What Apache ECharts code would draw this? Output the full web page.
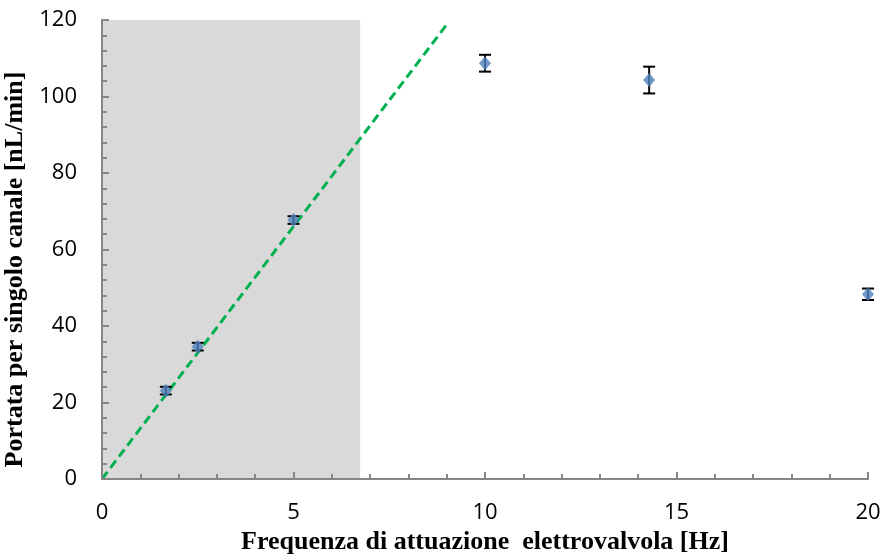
<!DOCTYPE html>
<html>
<head>
<meta charset="utf-8">
<script src="https://cdn.jsdelivr.net/npm/echarts@6/dist/echarts.min.js"></script>
<style>
  html, body { margin: 0; padding: 0; background: #fff; }
  #main { width: 882px; height: 558px; }
</style>
</head>
<body>
<div id="main"></div>
<script>
// dati
const freq = [1.667, 2.5, 5, 10, 14.286, 20]
const flow = [23.1, 34.6, 67.7, 108.7, 104.3, 48.3]
const err = [1, 1, 1, 2.2, 3.5, 1.5]
// retta di regressione (tratteggiata)
const fitX = [0, 9]
const fitY = [0, 118.8]
// zona grigia
const shadeX = [0, 6.74]
const shadeY = [0, 120]

const dom = document.getElementById('main')
const myChart = echarts.init(dom)

const points = freq.map((f, i) => [f, flow[i]])
const bars = freq.map((f, i) => [f, flow[i] - err[i], flow[i] + err[i]])
const fitLine = fitX.map((x, i) => [x, fitY[i]])

const axisGray = '#868686'

const option = {
  animation: false,
  grid: { left: 102, right: 14, top: 20, bottom: 79, outerBoundsMode: 'none' },
  xAxis: {
    type: 'value',
    min: 0,
    max: 20,
    interval: 5,
    z: 5,
    name: 'Frequenza di attuazione  elettrovalvola [Hz]',
    nameLocation: 'middle',
    nameGap: 38,
    nameTextStyle: { fontFamily: 'Liberation Serif', fontWeight: 'bold', fontSize: 26, color: '#000' },
    axisLine: { show: true, lineStyle: { color: axisGray, width: 2 } },
    axisTick: { show: true, inside: true, length: 7, lineStyle: { color: axisGray, width: 2 } },
    minorTick: { show: true, splitNumber: 5, length: 5, lineStyle: { color: axisGray, width: 2 } },
    axisLabel: { fontFamily: 'Open Sans', fontSize: 22, color: '#000', margin: 23 },
    splitLine: { show: false }
  },
  yAxis: {
    type: 'value',
    min: 0,
    max: 120,
    interval: 20,
    z: 5,
    name: 'Portata per singolo canale [nL/min]',
    nameLocation: 'middle',
    nameGap: 66,
    nameTextStyle: {
      fontFamily: 'Liberation Serif', fontWeight: 'bold', fontSize: 26, color: '#000',
      padding: [0, 40, 0, 0] // sposta il titolo un po' in basso
    },
    axisLine: { show: true, lineStyle: { color: axisGray, width: 2 } },
    axisTick: { show: true, inside: true, length: 7, lineStyle: { color: axisGray, width: 2 } },
    minorTick: { show: true, splitNumber: 5, length: 5, lineStyle: { color: axisGray, width: 2 } },
    axisLabel: { fontFamily: 'Open Sans', fontSize: 22, color: '#000', margin: 25 },
    splitLine: { show: false }
  },
  series: [
    {
      // zona grigia + retta
      type: 'line',
      data: fitLine,
      showSymbol: false,
      z: 3,
      lineStyle: { color: '#00b050', width: 3, type: [9, 5] },
      markArea: {
        silent: true,
        itemStyle: { color: '#d9d9d9' },
        data: [[
          { coord: [shadeX[0], shadeY[0]] },
          { coord: [shadeX[1], shadeY[1]] }
        ]]
      }
    },
    {
      // barre d'errore
      type: 'custom',
      z: 4,
      data: bars,
      renderItem: (params, api) => {
        const x = api.value(0)
        const lo = api.coord([x, api.value(1)])
        const hi = api.coord([x, api.value(2)])
        const w = 6
        const style = { stroke: '#000', lineWidth: 2 }
        return {
          type: 'group',
          children: [
            { type: 'line', shape: { x1: lo[0], y1: lo[1], x2: hi[0], y2: hi[1] }, style },
            { type: 'line', shape: { x1: lo[0] - w, y1: lo[1], x2: lo[0] + w, y2: lo[1] }, style },
            { type: 'line', shape: { x1: hi[0] - w, y1: hi[1], x2: hi[0] + w, y2: hi[1] }, style }
          ]
        }
      }
    },
    {
      type: 'scatter',
      z: 6,
      data: points,
      symbol: 'diamond',
      symbolSize: [12, 14],
      itemStyle: { color: '#4f81bd' }
    }
  ]
}

myChart.setOption(option)
</script>
</body>
</html>
